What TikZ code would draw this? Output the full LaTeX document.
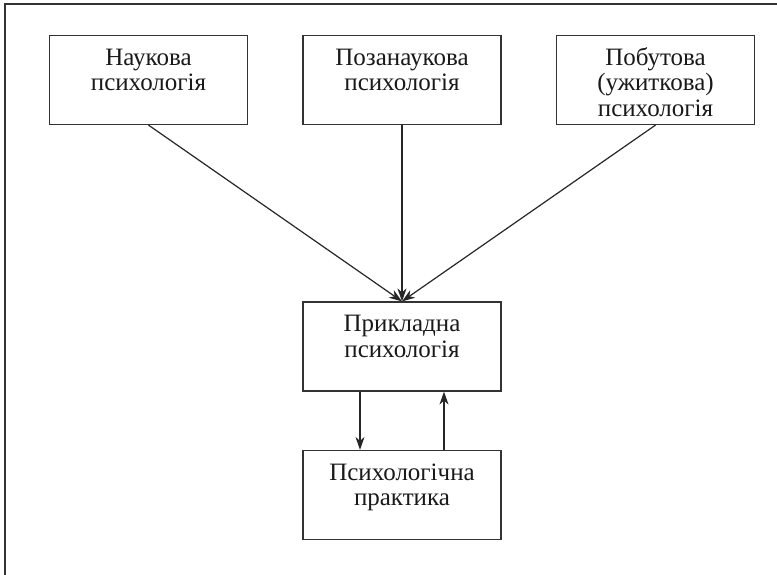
\documentclass[tikz,border=0pt]{standalone}
\usepackage{fontspec}
\setmainfont{Liberation Serif}
\usetikzlibrary{arrows.meta}
\newcommand{\boxtext}[1]{\parbox[c][65pt][t]{198pt}{\centering\fontsize{25}{25.5}\selectfont\strut #1}}
\begin{document}
\begin{tikzpicture}
  [x=1pt,y=-1pt,line width=1.2pt,
   every node/.style={draw=black!80,rectangle,inner xsep=0pt,inner ysep=12pt,text=black!90},
   link/.style={-{Stealth[length=13pt,width=9pt,inset=4pt]},black!85}]
  \useasboundingbox (0,0) rectangle (777,575);
  % frame
  \draw[black!80] (5,575) -- (5,4) -- (777,4);

  \node (nauk)  at (148.5,80)  {\boxtext{Наукова\\психологія}};
  \node (pozan) at (402,80)    {\boxtext{Позанаукова\\психологія}};
  \node (pobut) at (655.5,80)  {\boxtext{Побутова\\(ужиткова)\\психологія}};
  \node (prykl) at (402,346.5) {\boxtext{Прикладна\\психологія}};
  \node (prakt) at (402,495)   {\boxtext{Психологічна\\практика}};

  \foreach \from in {nauk,pozan,pobut}
    \draw[link] (\from.south) -- (prykl.north);
  \draw[link] ([xshift=-42pt]prykl.south) -- ([xshift=-42pt]prakt.north);
  \draw[link] ([xshift=42pt]prakt.north) -- ([xshift=42pt]prykl.south);
\end{tikzpicture}
\end{document}
